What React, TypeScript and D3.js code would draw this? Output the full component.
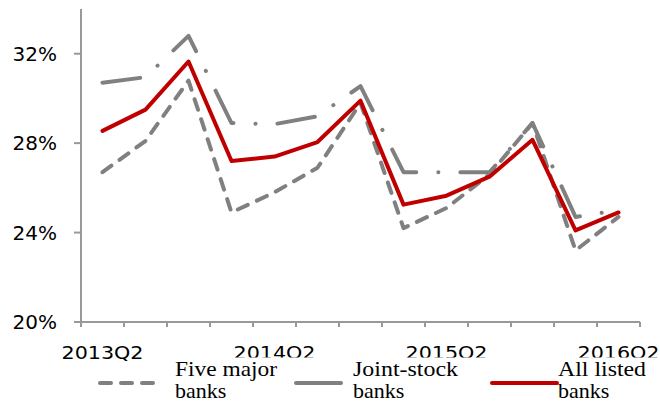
import React from "react";
import * as d3 from "d3";

const categories = [
  "2013Q2", "2013Q3", "2013Q4", "2014Q1", "2014Q2", "2014Q3", "2014Q4",
  "2015Q1", "2015Q2", "2015Q3", "2015Q4", "2016Q1", "2016Q2",
];
const tickLabels = ["2013Q2", "2014Q2", "2015Q2", "2016Q2"];
const yTicks = [20, 24, 28, 32];

const fiveMajor = [26.7, 28.1, 30.8, 24.9, 25.8, 26.9, 29.8, 24.2, 25.1, 26.6, 28.9, 23.2, 24.7];
const jointStock = [30.7, 30.95, 32.8, 28.9, 28.85, 29.2, 30.55, 26.7, 26.7, 26.7, 28.9, 24.7, 25.0];
const allListed = [28.55, 29.5, 31.65, 27.2, 27.4, 28.05, 29.9, 25.25, 25.65, 26.5, 28.15, 24.1, 24.9];

const seriesNames = ["Five major", "Joint-stock", "All listed"];

const SERIF = "'Liberation Serif', 'DejaVu Serif', serif";

export default function App() {
  const W = 660, H = 402;
  const x = d3.scaleBand<string>().domain(categories).range([81, 640]);
  const y = d3.scaleLinear().domain([20, 34]).range([322, 9]);
  const line = d3
    .line<number>()
    .x((_, i) => (x(categories[i]) as number) + x.bandwidth() / 2)
    .y((d) => y(d));

  const axisColor = "#999999";
  const gray = "#808080";
  const red = "#C00000";

  const boundaries = d3.range(categories.length + 1).map((i) => 81 + i * x.step());

  const series = [
    { name: seriesNames[0], data: fiveMajor, color: gray, dash: "11,10" },
    { name: seriesNames[1], data: jointStock, color: gray, dash: "38,22,0.1,22" },
    { name: seriesNames[2], data: allListed, color: red, dash: undefined as string | undefined },
  ];

  const legend = [
    { x0: 100, x1: 162, tx: 175, tw: 102 },
    { x0: 296, x1: 341, tx: 353, tw: 105 },
    { x0: 492, x1: 557, tx: 558, tw: 88 },
  ];

  return (
    <svg
      width={W}
      height={H}
      style={{ position: "absolute", left: 0, top: 0, background: "#fff" }}
    >
      <rect x={0} y={0} width={W} height={H} fill="#fff" />
      <line x1={81} x2={81} y1={9} y2={322} stroke={axisColor} strokeWidth={2} />
      <line x1={80} x2={640} y1={322} y2={322} stroke={axisColor} strokeWidth={2} />
      {yTicks.map((t) => (
        <g key={t}>
          <line x1={74} x2={81} y1={y(t)} y2={y(t)} stroke={axisColor} strokeWidth={2} />
          <text
            x={57}
            y={y(t)}
            dy="0.36em"
            textAnchor="end"
            style={{ fontFamily: "'DejaVu Sans'", fontSize: 20 }}
            fill="#000"
          >
            {t + "%"}
          </text>
        </g>
      ))}
      {boundaries.map((bx, i) => (
        <line key={i} x1={bx} x2={bx} y1={322} y2={327} stroke={axisColor} strokeWidth={2} />
      ))}
      {tickLabels.map((l) => (
        <text
          key={l}
          x={(x(l) as number) + x.bandwidth() / 2}
          y={359}
          textAnchor="middle"
          style={{ fontFamily: "'DejaVu Sans'", fontSize: 17 }}
          textLength={82}
          lengthAdjust="spacingAndGlyphs"
          fill="#000"
        >
          {l}
        </text>
      ))}
      {series.map((s) => (
        <path
          key={s.name}
          d={line(s.data) || ""}
          fill="none"
          stroke={s.color}
          strokeWidth={4}
          strokeDasharray={s.dash}
          strokeLinecap="round"
          strokeLinejoin="round"
        />
      ))}
      <rect x={170} y={357.5} width={490} height={45} fill="#fff" />
      {series.map((s, i) => (
        <g key={s.name}>
          <line
            x1={legend[i].x0}
            x2={legend[i].x1}
            y1={383}
            y2={383}
            stroke={s.color}
            strokeWidth={4}
            strokeDasharray={i === 0 ? "11,10" : undefined}
            strokeLinecap="round"
          />
          <text
            x={legend[i].tx}
            y={376}
            style={{ fontFamily: SERIF, fontSize: 22 }}
            textLength={legend[i].tw}
            lengthAdjust="spacingAndGlyphs"
            fill="#000"
          >
            {s.name}
          </text>
          <text
            x={legend[i].tx}
            y={397.5}
            style={{ fontFamily: SERIF, fontSize: 22 }}
            fill="#000"
          >
            banks
          </text>
        </g>
      ))}
    </svg>
  );
}
